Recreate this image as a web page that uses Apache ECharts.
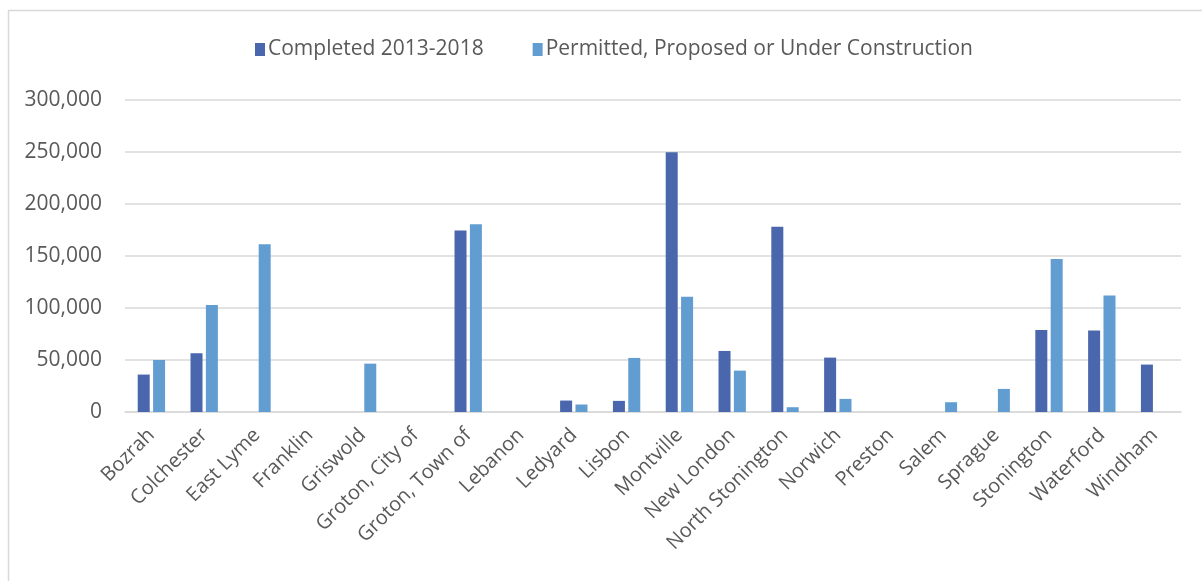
<!DOCTYPE html>
<html><head><meta charset="utf-8">
<script src="https://cdn.jsdelivr.net/npm/echarts@6/dist/echarts.min.js"></script>
<style>html,body{margin:0;padding:0;background:#fff}#c{width:1202px;height:581px}</style>
</head><body><div id="c"></div>
<script>
const categories = ["Bozrah","Colchester","East Lyme","Franklin","Griswold","Groton, City of","Groton, Town of","Lebanon","Ledyard","Lisbon","Montville","New London","North Stonington","Norwich","Preston","Salem","Sprague","Stonington","Waterford","Windham"];
const completed = [36000,56500,0,0,0,0,174500,0,11000,10700,249700,58700,178200,52300,0,0,0,78900,78300,45600];
const permitted = [50000,102800,161200,0,46500,0,180500,0,7200,52000,110700,39800,4600,12600,0,9400,22200,147200,112000,0];
const seriesNames = ["Completed 2013-2018","Permitted, Proposed or Under Construction"];
const yTicks = [0,50000,100000,150000,200000,250000,300000];

const chart = echarts.init(document.getElementById('c'));
chart.setOption({
  animation:false,
  color:['#4A66AC','#629DD1'],
  graphic:[{type:'rect',shape:{x:8.5,y:10.5,width:1400,height:800},style:{fill:'none',stroke:'#D9D9D9',lineWidth:1.5},silent:true}],
  legend:{top:34,left:250,itemWidth:10,itemHeight:13,itemGap:49,icon:'rect',
    textStyle:{fontFamily:'Open Sans',fontSize:21,color:'#595959',padding:[0,0,0,-2]}},
  grid:{left:125,right:21,top:100,bottom:169},
  xAxis:{type:'category',data:categories,
    axisLine:{lineStyle:{color:'#D9D9D9',width:1.5}},axisTick:{show:false},
    axisLabel:{rotate:45,interval:0,margin:20,fontFamily:'Open Sans',fontSize:20,color:'#595959'}},
  yAxis:{type:'value',min:yTicks[0],max:yTicks[yTicks.length-1],interval:50000,
    axisLine:{show:false},axisTick:{show:false},
    splitLine:{lineStyle:{color:'#D9D9D9',width:1.5}},
    axisLabel:{margin:23,fontFamily:'Open Sans',fontSize:21,color:'#595959',
      formatter:v=>v.toLocaleString('en-US')}},
  series:[
    {name:seriesNames[0],type:'bar',data:completed,barWidth:12,barGap:'28%'},
    {name:seriesNames[1],type:'bar',data:permitted,barWidth:12}
  ]
});
</script></body></html>
